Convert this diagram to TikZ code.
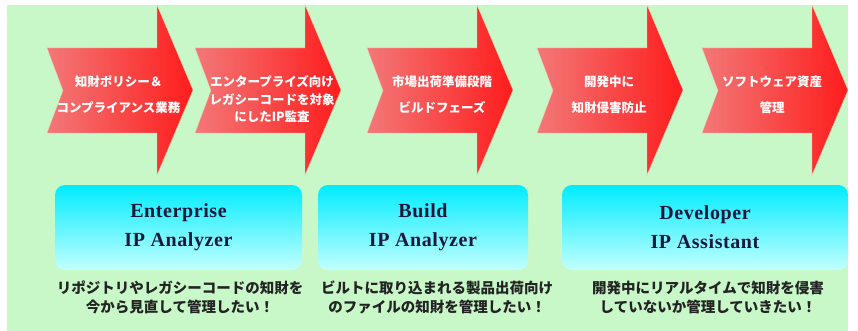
\documentclass[tikz,border=0pt]{standalone}
\usepackage{fontspec}
\setmainfont{Liberation Serif}
\newfontfamily\jpfont{Noto Sans CJK JP}
\definecolor{bggreen}{RGB}{200,248,200}
\definecolor{arrowlight}{RGB}{243,120,120}
\definecolor{arrowdark}{RGB}{255,28,28}
\definecolor{arrowedge}{RGB}{240,200,170}
\definecolor{boxtop}{RGB}{0,236,255}
\definecolor{boxbottom}{RGB}{195,255,255}
\definecolor{navytext}{RGB}{25,25,60}
\definecolor{graytext}{RGB}{35,35,35}
\begin{document}
\begin{tikzpicture}[x=1pt,y=-1pt,
    stagetext/.style={align=center,text=white,inner sep=0pt,font=\jpfont\bfseries\fontsize{12.5}{26}\selectfont},
    stagetight/.style={stagetext,font=\jpfont\bfseries\fontsize{12.5}{17.5}\selectfont},
    toolbox/.style={rounded corners=10pt,top color=boxtop,bottom color=boxbottom,minimum height=85pt,inner sep=0pt,align=center,text=navytext,font=\addfontfeature{LetterSpace=3}\bfseries\fontsize{20}{29}\selectfont},
    needtext/.style={align=center,text=graytext,inner sep=0pt,font=\jpfont\bfseries\fontsize{14.5}{19}\selectfont}]
  \useasboundingbox (0,0) rectangle (858,331);
  \fill[bggreen] (7,5) rectangle (848,331);
  \foreach \l in {47,195,367,537,702}
    \draw[draw=arrowedge,left color=arrowlight,right color=arrowdark]
      (\l,48) -- (\l+110,48) -- (\l+110,5) -- (\l+146,90) -- (\l+110,175)
      -- (\l+110,133) -- (\l,133) -- (\l+16,90.5) -- cycle;
  \node[stagetext] (stage1) at (118.5,95) {知財ポリシー＆\\コンプライアンス業務};
  \node[stagetight] (stage2) at (272,99.5) {エンタープライズ向け\\レガシーコードを対象\\にしたIP監査};
  \node[stagetext] (stage3) at (442,95) {市場出荷準備段階\\ビルドフェーズ};
  \node[stagetext] (stage4) at (609,95) {開発中に\\知財侵害防止};
  \node[stagetext] (stage5) at (772,95) {ソフトウェア資産\\管理};
  \node[toolbox,minimum width=247pt] (enterprise) at (178.5,227.5) {Enterprise\\IP Analyzer};
  \node[toolbox,minimum width=210pt] (build) at (423,227.5) {Build\\IP Analyzer};
  \node[toolbox,minimum width=286pt] (developer) at (705,227.5) {Developer\\IP Assistant};
  \node[needtext] (need1) at (180,297.5) {リポジトリやレガシーコードの知財を\\今から見直して管理したい！};
  \node[needtext] (need2) at (437,297.5) {ビルトに取り込まれる製品出荷向け\\のファイルの知財を管理したい！};
  \node[needtext] (need3) at (708,297.5) {開発中にリアルタイムで知財を侵害\\していないか管理していきたい！};
\end{tikzpicture}
\end{document}
